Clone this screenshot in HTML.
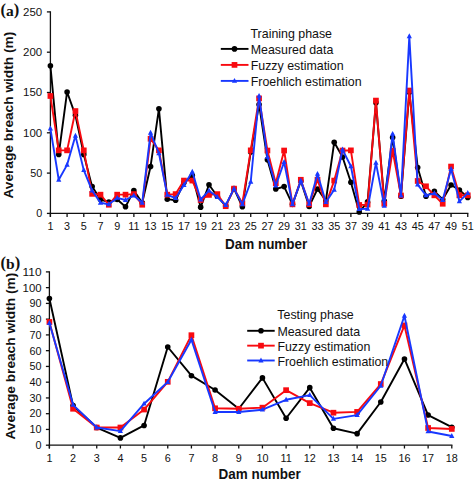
<!DOCTYPE html>
<html><head><meta charset="utf-8"><style>
html,body{margin:0;padding:0;background:#fff;}
svg{display:block;}
text{font-family:"Liberation Sans",sans-serif;fill:#111;}
.tk{font-size:10.8px;}
.lg{font-size:12.4px;}
.al{font-size:13.7px;font-weight:bold;}
.pl{font-family:"Liberation Serif",serif;font-size:15.5px;font-weight:bold;}
</style></head><body>
<svg width="475" height="482" viewBox="0 0 475 482">
<rect width="475" height="482" fill="#fff"/>
<line x1="50.4" y1="11.30" x2="50.4" y2="216.9" stroke="#111" stroke-width="1.3"/>
<line x1="49.75" y1="213.4" x2="468.40" y2="213.4" stroke="#111" stroke-width="1.3"/>
<line x1="46.9" y1="213.40" x2="50.4" y2="213.40" stroke="#111" stroke-width="1.3"/>
<text x="42.2" y="217.30" class="tk" text-anchor="end">0</text>
<line x1="46.9" y1="173.10" x2="50.4" y2="173.10" stroke="#111" stroke-width="1.3"/>
<text x="42.2" y="177.00" class="tk" text-anchor="end">50</text>
<line x1="46.9" y1="132.80" x2="50.4" y2="132.80" stroke="#111" stroke-width="1.3"/>
<text x="42.2" y="136.70" class="tk" text-anchor="end" textLength="19.1" lengthAdjust="spacingAndGlyphs">100</text>
<line x1="46.9" y1="92.50" x2="50.4" y2="92.50" stroke="#111" stroke-width="1.3"/>
<text x="42.2" y="96.40" class="tk" text-anchor="end" textLength="19.1" lengthAdjust="spacingAndGlyphs">150</text>
<line x1="46.9" y1="52.20" x2="50.4" y2="52.20" stroke="#111" stroke-width="1.3"/>
<text x="42.2" y="56.10" class="tk" text-anchor="end" textLength="19.1" lengthAdjust="spacingAndGlyphs">200</text>
<line x1="46.9" y1="11.90" x2="50.4" y2="11.90" stroke="#111" stroke-width="1.3"/>
<text x="42.2" y="15.80" class="tk" text-anchor="end" textLength="19.1" lengthAdjust="spacingAndGlyphs">250</text>
<line x1="50.40" y1="213.4" x2="50.40" y2="216.9" stroke="#111" stroke-width="1.3"/>
<text x="50.40" y="229.8" class="tk" text-anchor="middle">1</text>
<line x1="67.09" y1="213.4" x2="67.09" y2="216.9" stroke="#111" stroke-width="1.3"/>
<text x="67.09" y="229.8" class="tk" text-anchor="middle">3</text>
<line x1="83.79" y1="213.4" x2="83.79" y2="216.9" stroke="#111" stroke-width="1.3"/>
<text x="83.79" y="229.8" class="tk" text-anchor="middle">5</text>
<line x1="100.48" y1="213.4" x2="100.48" y2="216.9" stroke="#111" stroke-width="1.3"/>
<text x="100.48" y="229.8" class="tk" text-anchor="middle">7</text>
<line x1="117.18" y1="213.4" x2="117.18" y2="216.9" stroke="#111" stroke-width="1.3"/>
<text x="117.18" y="229.8" class="tk" text-anchor="middle">9</text>
<line x1="133.87" y1="213.4" x2="133.87" y2="216.9" stroke="#111" stroke-width="1.3"/>
<text x="133.87" y="229.8" class="tk" text-anchor="middle">11</text>
<line x1="150.56" y1="213.4" x2="150.56" y2="216.9" stroke="#111" stroke-width="1.3"/>
<text x="150.56" y="229.8" class="tk" text-anchor="middle">13</text>
<line x1="167.26" y1="213.4" x2="167.26" y2="216.9" stroke="#111" stroke-width="1.3"/>
<text x="167.26" y="229.8" class="tk" text-anchor="middle">15</text>
<line x1="183.95" y1="213.4" x2="183.95" y2="216.9" stroke="#111" stroke-width="1.3"/>
<text x="183.95" y="229.8" class="tk" text-anchor="middle">17</text>
<line x1="200.65" y1="213.4" x2="200.65" y2="216.9" stroke="#111" stroke-width="1.3"/>
<text x="200.65" y="229.8" class="tk" text-anchor="middle">19</text>
<line x1="217.34" y1="213.4" x2="217.34" y2="216.9" stroke="#111" stroke-width="1.3"/>
<text x="217.34" y="229.8" class="tk" text-anchor="middle">21</text>
<line x1="234.03" y1="213.4" x2="234.03" y2="216.9" stroke="#111" stroke-width="1.3"/>
<text x="234.03" y="229.8" class="tk" text-anchor="middle">23</text>
<line x1="250.73" y1="213.4" x2="250.73" y2="216.9" stroke="#111" stroke-width="1.3"/>
<text x="250.73" y="229.8" class="tk" text-anchor="middle">25</text>
<line x1="267.42" y1="213.4" x2="267.42" y2="216.9" stroke="#111" stroke-width="1.3"/>
<text x="267.42" y="229.8" class="tk" text-anchor="middle">27</text>
<line x1="284.12" y1="213.4" x2="284.12" y2="216.9" stroke="#111" stroke-width="1.3"/>
<text x="284.12" y="229.8" class="tk" text-anchor="middle">29</text>
<line x1="300.81" y1="213.4" x2="300.81" y2="216.9" stroke="#111" stroke-width="1.3"/>
<text x="300.81" y="229.8" class="tk" text-anchor="middle">31</text>
<line x1="317.50" y1="213.4" x2="317.50" y2="216.9" stroke="#111" stroke-width="1.3"/>
<text x="317.50" y="229.8" class="tk" text-anchor="middle">33</text>
<line x1="334.20" y1="213.4" x2="334.20" y2="216.9" stroke="#111" stroke-width="1.3"/>
<text x="334.20" y="229.8" class="tk" text-anchor="middle">35</text>
<line x1="350.89" y1="213.4" x2="350.89" y2="216.9" stroke="#111" stroke-width="1.3"/>
<text x="350.89" y="229.8" class="tk" text-anchor="middle">37</text>
<line x1="367.59" y1="213.4" x2="367.59" y2="216.9" stroke="#111" stroke-width="1.3"/>
<text x="367.59" y="229.8" class="tk" text-anchor="middle">39</text>
<line x1="384.28" y1="213.4" x2="384.28" y2="216.9" stroke="#111" stroke-width="1.3"/>
<text x="384.28" y="229.8" class="tk" text-anchor="middle">41</text>
<line x1="400.97" y1="213.4" x2="400.97" y2="216.9" stroke="#111" stroke-width="1.3"/>
<text x="400.97" y="229.8" class="tk" text-anchor="middle">43</text>
<line x1="417.67" y1="213.4" x2="417.67" y2="216.9" stroke="#111" stroke-width="1.3"/>
<text x="417.67" y="229.8" class="tk" text-anchor="middle">45</text>
<line x1="434.36" y1="213.4" x2="434.36" y2="216.9" stroke="#111" stroke-width="1.3"/>
<text x="434.36" y="229.8" class="tk" text-anchor="middle">47</text>
<line x1="451.06" y1="213.4" x2="451.06" y2="216.9" stroke="#111" stroke-width="1.3"/>
<text x="451.06" y="229.8" class="tk" text-anchor="middle">49</text>
<line x1="467.75" y1="213.4" x2="467.75" y2="216.9" stroke="#111" stroke-width="1.3"/>
<text x="467.75" y="229.8" class="tk" text-anchor="middle">51</text>
<polyline points="50.40,65.78 58.75,154.39 67.09,91.96 75.44,115.32 83.79,154.39 92.13,186.62 100.48,199.50 108.83,202.16 117.18,199.50 125.52,206.76 133.87,190.64 142.22,202.73 150.56,166.48 158.91,108.79 167.26,199.18 175.60,200.31 183.95,182.59 192.30,175.58 200.65,207.16 208.99,184.76 217.34,196.28 225.69,205.95 234.03,188.63 242.38,206.76 250.73,151.97 259.07,104.44 267.42,159.63 275.77,189.03 284.12,186.62 292.46,204.34 300.81,180.98 309.16,206.43 317.50,189.03 325.85,200.79 334.20,142.31 342.54,156.97 350.89,182.26 359.24,211.99 367.59,201.92 375.93,102.83 384.28,201.12 392.63,137.47 400.97,196.28 409.32,92.36 417.67,167.44 426.01,196.28 434.36,191.29 442.71,199.50 451.06,185.00 459.40,190.00 467.75,197.41" fill="none" stroke="#000" stroke-width="1.9" stroke-linejoin="round"/>
<circle cx="50.40" cy="65.78" r="2.80" fill="#000"/>
<circle cx="58.75" cy="154.39" r="2.80" fill="#000"/>
<circle cx="67.09" cy="91.96" r="2.80" fill="#000"/>
<circle cx="75.44" cy="115.32" r="2.80" fill="#000"/>
<circle cx="83.79" cy="154.39" r="2.80" fill="#000"/>
<circle cx="92.13" cy="186.62" r="2.80" fill="#000"/>
<circle cx="100.48" cy="199.50" r="2.80" fill="#000"/>
<circle cx="108.83" cy="202.16" r="2.80" fill="#000"/>
<circle cx="117.18" cy="199.50" r="2.80" fill="#000"/>
<circle cx="125.52" cy="206.76" r="2.80" fill="#000"/>
<circle cx="133.87" cy="190.64" r="2.80" fill="#000"/>
<circle cx="142.22" cy="202.73" r="2.80" fill="#000"/>
<circle cx="150.56" cy="166.48" r="2.80" fill="#000"/>
<circle cx="158.91" cy="108.79" r="2.80" fill="#000"/>
<circle cx="167.26" cy="199.18" r="2.80" fill="#000"/>
<circle cx="175.60" cy="200.31" r="2.80" fill="#000"/>
<circle cx="183.95" cy="182.59" r="2.80" fill="#000"/>
<circle cx="192.30" cy="175.58" r="2.80" fill="#000"/>
<circle cx="200.65" cy="207.16" r="2.80" fill="#000"/>
<circle cx="208.99" cy="184.76" r="2.80" fill="#000"/>
<circle cx="217.34" cy="196.28" r="2.80" fill="#000"/>
<circle cx="225.69" cy="205.95" r="2.80" fill="#000"/>
<circle cx="234.03" cy="188.63" r="2.80" fill="#000"/>
<circle cx="242.38" cy="206.76" r="2.80" fill="#000"/>
<circle cx="250.73" cy="151.97" r="2.80" fill="#000"/>
<circle cx="259.07" cy="104.44" r="2.80" fill="#000"/>
<circle cx="267.42" cy="159.63" r="2.80" fill="#000"/>
<circle cx="275.77" cy="189.03" r="2.80" fill="#000"/>
<circle cx="284.12" cy="186.62" r="2.80" fill="#000"/>
<circle cx="292.46" cy="204.34" r="2.80" fill="#000"/>
<circle cx="300.81" cy="180.98" r="2.80" fill="#000"/>
<circle cx="309.16" cy="206.43" r="2.80" fill="#000"/>
<circle cx="317.50" cy="189.03" r="2.80" fill="#000"/>
<circle cx="325.85" cy="200.79" r="2.80" fill="#000"/>
<circle cx="334.20" cy="142.31" r="2.80" fill="#000"/>
<circle cx="342.54" cy="156.97" r="2.80" fill="#000"/>
<circle cx="350.89" cy="182.26" r="2.80" fill="#000"/>
<circle cx="359.24" cy="211.99" r="2.80" fill="#000"/>
<circle cx="367.59" cy="201.92" r="2.80" fill="#000"/>
<circle cx="375.93" cy="102.83" r="2.80" fill="#000"/>
<circle cx="384.28" cy="201.12" r="2.80" fill="#000"/>
<circle cx="392.63" cy="137.47" r="2.80" fill="#000"/>
<circle cx="400.97" cy="196.28" r="2.80" fill="#000"/>
<circle cx="409.32" cy="92.36" r="2.80" fill="#000"/>
<circle cx="417.67" cy="167.44" r="2.80" fill="#000"/>
<circle cx="426.01" cy="196.28" r="2.80" fill="#000"/>
<circle cx="434.36" cy="191.29" r="2.80" fill="#000"/>
<circle cx="442.71" cy="199.50" r="2.80" fill="#000"/>
<circle cx="451.06" cy="185.00" r="2.80" fill="#000"/>
<circle cx="459.40" cy="190.00" r="2.80" fill="#000"/>
<circle cx="467.75" cy="197.41" r="2.80" fill="#000"/>
<polyline points="50.40,95.99 58.75,150.36 67.09,150.36 75.44,111.05 83.79,150.36 92.13,193.87 100.48,194.67 108.83,204.74 117.18,194.67 125.52,194.67 133.87,194.11 142.22,204.74 150.56,138.76 158.91,150.36 167.26,194.67 175.60,194.11 183.95,180.57 192.30,180.57 200.65,199.99 208.99,194.91 217.34,194.11 225.69,206.19 234.03,188.63 242.38,203.29 250.73,150.36 259.07,98.40 267.42,150.52 275.77,183.15 284.12,150.52 292.46,204.34 300.81,179.77 309.16,204.34 317.50,179.77 325.85,204.34 334.20,180.57 342.54,150.52 350.89,150.36 359.24,204.98 367.59,204.58 375.93,100.58 384.28,203.77 392.63,150.77 400.97,195.48 409.32,90.51 417.67,180.98 426.01,186.29 434.36,195.32 442.71,203.77 451.06,166.56 459.40,195.32 467.75,195.32" fill="none" stroke="#f80a10" stroke-width="1.9" stroke-linejoin="round"/>
<rect x="47.55" y="93.14" width="5.70" height="5.70" fill="#f80a10"/>
<rect x="55.90" y="147.51" width="5.70" height="5.70" fill="#f80a10"/>
<rect x="64.24" y="147.51" width="5.70" height="5.70" fill="#f80a10"/>
<rect x="72.59" y="108.20" width="5.70" height="5.70" fill="#f80a10"/>
<rect x="80.94" y="147.51" width="5.70" height="5.70" fill="#f80a10"/>
<rect x="89.28" y="191.02" width="5.70" height="5.70" fill="#f80a10"/>
<rect x="97.63" y="191.82" width="5.70" height="5.70" fill="#f80a10"/>
<rect x="105.98" y="201.89" width="5.70" height="5.70" fill="#f80a10"/>
<rect x="114.33" y="191.82" width="5.70" height="5.70" fill="#f80a10"/>
<rect x="122.67" y="191.82" width="5.70" height="5.70" fill="#f80a10"/>
<rect x="131.02" y="191.26" width="5.70" height="5.70" fill="#f80a10"/>
<rect x="139.37" y="201.89" width="5.70" height="5.70" fill="#f80a10"/>
<rect x="147.71" y="135.91" width="5.70" height="5.70" fill="#f80a10"/>
<rect x="156.06" y="147.51" width="5.70" height="5.70" fill="#f80a10"/>
<rect x="164.41" y="191.82" width="5.70" height="5.70" fill="#f80a10"/>
<rect x="172.75" y="191.26" width="5.70" height="5.70" fill="#f80a10"/>
<rect x="181.10" y="177.72" width="5.70" height="5.70" fill="#f80a10"/>
<rect x="189.45" y="177.72" width="5.70" height="5.70" fill="#f80a10"/>
<rect x="197.80" y="197.14" width="5.70" height="5.70" fill="#f80a10"/>
<rect x="206.14" y="192.06" width="5.70" height="5.70" fill="#f80a10"/>
<rect x="214.49" y="191.26" width="5.70" height="5.70" fill="#f80a10"/>
<rect x="222.84" y="203.34" width="5.70" height="5.70" fill="#f80a10"/>
<rect x="231.18" y="185.78" width="5.70" height="5.70" fill="#f80a10"/>
<rect x="239.53" y="200.44" width="5.70" height="5.70" fill="#f80a10"/>
<rect x="247.88" y="147.51" width="5.70" height="5.70" fill="#f80a10"/>
<rect x="256.22" y="95.55" width="5.70" height="5.70" fill="#f80a10"/>
<rect x="264.57" y="147.67" width="5.70" height="5.70" fill="#f80a10"/>
<rect x="272.92" y="180.30" width="5.70" height="5.70" fill="#f80a10"/>
<rect x="281.27" y="147.67" width="5.70" height="5.70" fill="#f80a10"/>
<rect x="289.61" y="201.49" width="5.70" height="5.70" fill="#f80a10"/>
<rect x="297.96" y="176.92" width="5.70" height="5.70" fill="#f80a10"/>
<rect x="306.31" y="201.49" width="5.70" height="5.70" fill="#f80a10"/>
<rect x="314.65" y="176.92" width="5.70" height="5.70" fill="#f80a10"/>
<rect x="323.00" y="201.49" width="5.70" height="5.70" fill="#f80a10"/>
<rect x="331.35" y="177.72" width="5.70" height="5.70" fill="#f80a10"/>
<rect x="339.69" y="147.67" width="5.70" height="5.70" fill="#f80a10"/>
<rect x="348.04" y="147.51" width="5.70" height="5.70" fill="#f80a10"/>
<rect x="356.39" y="202.13" width="5.70" height="5.70" fill="#f80a10"/>
<rect x="364.74" y="201.73" width="5.70" height="5.70" fill="#f80a10"/>
<rect x="373.08" y="97.73" width="5.70" height="5.70" fill="#f80a10"/>
<rect x="381.43" y="200.92" width="5.70" height="5.70" fill="#f80a10"/>
<rect x="389.78" y="147.92" width="5.70" height="5.70" fill="#f80a10"/>
<rect x="398.12" y="192.63" width="5.70" height="5.70" fill="#f80a10"/>
<rect x="406.47" y="87.66" width="5.70" height="5.70" fill="#f80a10"/>
<rect x="414.82" y="178.13" width="5.70" height="5.70" fill="#f80a10"/>
<rect x="423.16" y="183.44" width="5.70" height="5.70" fill="#f80a10"/>
<rect x="431.51" y="192.47" width="5.70" height="5.70" fill="#f80a10"/>
<rect x="439.86" y="200.92" width="5.70" height="5.70" fill="#f80a10"/>
<rect x="448.21" y="163.71" width="5.70" height="5.70" fill="#f80a10"/>
<rect x="456.55" y="192.47" width="5.70" height="5.70" fill="#f80a10"/>
<rect x="464.90" y="192.47" width="5.70" height="5.70" fill="#f80a10"/>
<polyline points="50.40,128.61 58.75,179.77 67.09,164.86 75.44,135.86 83.79,170.18 92.13,190.64 100.48,202.73 108.83,204.34 117.18,197.89 125.52,199.99 133.87,195.48 142.22,202.73 150.56,132.80 158.91,153.26 167.26,194.91 175.60,198.22 183.95,185.00 192.30,171.79 200.65,199.50 208.99,190.64 217.34,197.09 225.69,205.14 234.03,188.63 242.38,204.34 250.73,181.78 259.07,95.90 267.42,156.97 275.77,185.65 284.12,162.04 292.46,204.34 300.81,180.57 309.16,203.94 317.50,173.89 325.85,202.16 334.20,189.84 342.54,149.56 350.89,166.23 359.24,209.17 367.59,208.77 375.93,162.85 384.28,205.95 392.63,133.93 400.97,195.48 409.32,36.37 417.67,184.60 426.01,195.32 434.36,193.30 442.71,200.07 451.06,169.05 459.40,201.36 467.75,193.06" fill="none" stroke="#1838ff" stroke-width="1.9" stroke-linejoin="round"/>
<path d="M50.40,125.61 L53.00,130.51 L47.80,130.51Z" fill="#1838ff"/>
<path d="M58.75,176.77 L61.35,181.67 L56.15,181.67Z" fill="#1838ff"/>
<path d="M67.09,161.86 L69.69,166.76 L64.49,166.76Z" fill="#1838ff"/>
<path d="M75.44,132.86 L78.04,137.76 L72.84,137.76Z" fill="#1838ff"/>
<path d="M83.79,167.18 L86.39,172.08 L81.19,172.08Z" fill="#1838ff"/>
<path d="M92.13,187.64 L94.73,192.54 L89.53,192.54Z" fill="#1838ff"/>
<path d="M100.48,199.73 L103.08,204.63 L97.88,204.63Z" fill="#1838ff"/>
<path d="M108.83,201.34 L111.43,206.24 L106.23,206.24Z" fill="#1838ff"/>
<path d="M117.18,194.89 L119.78,199.79 L114.58,199.79Z" fill="#1838ff"/>
<path d="M125.52,196.99 L128.12,201.89 L122.92,201.89Z" fill="#1838ff"/>
<path d="M133.87,192.48 L136.47,197.38 L131.27,197.38Z" fill="#1838ff"/>
<path d="M142.22,199.73 L144.82,204.63 L139.62,204.63Z" fill="#1838ff"/>
<path d="M150.56,129.80 L153.16,134.70 L147.96,134.70Z" fill="#1838ff"/>
<path d="M158.91,150.26 L161.51,155.16 L156.31,155.16Z" fill="#1838ff"/>
<path d="M167.26,191.91 L169.86,196.81 L164.66,196.81Z" fill="#1838ff"/>
<path d="M175.60,195.22 L178.20,200.12 L173.00,200.12Z" fill="#1838ff"/>
<path d="M183.95,182.00 L186.55,186.90 L181.35,186.90Z" fill="#1838ff"/>
<path d="M192.30,168.79 L194.90,173.69 L189.70,173.69Z" fill="#1838ff"/>
<path d="M200.65,196.50 L203.25,201.40 L198.05,201.40Z" fill="#1838ff"/>
<path d="M208.99,187.64 L211.59,192.54 L206.39,192.54Z" fill="#1838ff"/>
<path d="M217.34,194.09 L219.94,198.99 L214.74,198.99Z" fill="#1838ff"/>
<path d="M225.69,202.14 L228.29,207.04 L223.09,207.04Z" fill="#1838ff"/>
<path d="M234.03,185.63 L236.63,190.53 L231.43,190.53Z" fill="#1838ff"/>
<path d="M242.38,201.34 L244.98,206.24 L239.78,206.24Z" fill="#1838ff"/>
<path d="M250.73,178.78 L253.33,183.68 L248.13,183.68Z" fill="#1838ff"/>
<path d="M259.07,92.90 L261.68,97.80 L256.47,97.80Z" fill="#1838ff"/>
<path d="M267.42,153.97 L270.02,158.87 L264.82,158.87Z" fill="#1838ff"/>
<path d="M275.77,182.65 L278.37,187.55 L273.17,187.55Z" fill="#1838ff"/>
<path d="M284.12,159.04 L286.72,163.94 L281.52,163.94Z" fill="#1838ff"/>
<path d="M292.46,201.34 L295.06,206.24 L289.86,206.24Z" fill="#1838ff"/>
<path d="M300.81,177.57 L303.41,182.47 L298.21,182.47Z" fill="#1838ff"/>
<path d="M309.16,200.94 L311.76,205.84 L306.56,205.84Z" fill="#1838ff"/>
<path d="M317.50,170.89 L320.10,175.79 L314.90,175.79Z" fill="#1838ff"/>
<path d="M325.85,199.16 L328.45,204.06 L323.25,204.06Z" fill="#1838ff"/>
<path d="M334.20,186.84 L336.80,191.74 L331.60,191.74Z" fill="#1838ff"/>
<path d="M342.54,146.56 L345.14,151.46 L339.94,151.46Z" fill="#1838ff"/>
<path d="M350.89,163.23 L353.49,168.13 L348.29,168.13Z" fill="#1838ff"/>
<path d="M359.24,206.17 L361.84,211.07 L356.64,211.07Z" fill="#1838ff"/>
<path d="M367.59,205.77 L370.19,210.67 L364.99,210.67Z" fill="#1838ff"/>
<path d="M375.93,159.85 L378.53,164.75 L373.33,164.75Z" fill="#1838ff"/>
<path d="M384.28,202.95 L386.88,207.85 L381.68,207.85Z" fill="#1838ff"/>
<path d="M392.63,130.93 L395.23,135.83 L390.03,135.83Z" fill="#1838ff"/>
<path d="M400.97,192.48 L403.57,197.38 L398.37,197.38Z" fill="#1838ff"/>
<path d="M409.32,33.37 L411.92,38.27 L406.72,38.27Z" fill="#1838ff"/>
<path d="M417.67,181.60 L420.27,186.50 L415.07,186.50Z" fill="#1838ff"/>
<path d="M426.01,192.32 L428.61,197.22 L423.41,197.22Z" fill="#1838ff"/>
<path d="M434.36,190.30 L436.96,195.20 L431.76,195.20Z" fill="#1838ff"/>
<path d="M442.71,197.07 L445.31,201.97 L440.11,201.97Z" fill="#1838ff"/>
<path d="M451.06,166.05 L453.66,170.95 L448.46,170.95Z" fill="#1838ff"/>
<path d="M459.40,198.36 L462.00,203.26 L456.80,203.26Z" fill="#1838ff"/>
<path d="M467.75,190.06 L470.35,194.96 L465.15,194.96Z" fill="#1838ff"/>
<text x="250.5" y="38.4" class="lg">Training phase</text>
<line x1="220.8" y1="48.9" x2="248.5" y2="48.9" stroke="#000" stroke-width="1.9"/>
<circle cx="234.50" cy="48.90" r="2.80" fill="#000"/>
<text x="250.7" y="53.90" class="lg">Measured data</text>
<line x1="220.8" y1="64.9" x2="248.5" y2="64.9" stroke="#f80a10" stroke-width="1.9"/>
<rect x="231.65" y="62.05" width="5.70" height="5.70" fill="#f80a10"/>
<text x="250.7" y="69.90" class="lg">Fuzzy estimation</text>
<line x1="220.8" y1="80.9" x2="248.5" y2="80.9" stroke="#1838ff" stroke-width="1.9"/>
<path d="M234.50,77.90 L237.10,82.80 L231.90,82.80Z" fill="#1838ff"/>
<text x="250.7" y="85.90" class="lg">Froehlich estimation</text>
<text x="225.0" y="248.7" class="al" style="font-size:14.5px" textLength="82.3" lengthAdjust="spacingAndGlyphs">Dam number</text>
<text transform="translate(13.3,115.2) rotate(-90)" class="al" text-anchor="middle">Average breach width (m)</text>
<text x="0.4" y="15.0" class="pl"><tspan style="font-size:16.5px" dy="-0.4">(</tspan><tspan dy="0.9">a</tspan><tspan style="font-size:16.5px" dy="-0.9">)</tspan></text>
<line x1="49.4" y1="271.29" x2="49.4" y2="448.5" stroke="#111" stroke-width="1.3"/>
<line x1="48.75" y1="445.2" x2="452.44" y2="445.2" stroke="#111" stroke-width="1.3"/>
<line x1="45.9" y1="445.20" x2="49.4" y2="445.20" stroke="#111" stroke-width="1.3"/>
<text x="41.6" y="448.58" class="tk" text-anchor="end">0</text>
<line x1="45.9" y1="429.44" x2="49.4" y2="429.44" stroke="#111" stroke-width="1.3"/>
<text x="41.6" y="432.90" class="tk" text-anchor="end">10</text>
<line x1="45.9" y1="413.69" x2="49.4" y2="413.69" stroke="#111" stroke-width="1.3"/>
<text x="41.6" y="417.22" class="tk" text-anchor="end">20</text>
<line x1="45.9" y1="397.94" x2="49.4" y2="397.94" stroke="#111" stroke-width="1.3"/>
<text x="41.6" y="401.54" class="tk" text-anchor="end">30</text>
<line x1="45.9" y1="382.18" x2="49.4" y2="382.18" stroke="#111" stroke-width="1.3"/>
<text x="41.6" y="385.86" class="tk" text-anchor="end">40</text>
<line x1="45.9" y1="366.43" x2="49.4" y2="366.43" stroke="#111" stroke-width="1.3"/>
<text x="41.6" y="370.18" class="tk" text-anchor="end">50</text>
<line x1="45.9" y1="350.67" x2="49.4" y2="350.67" stroke="#111" stroke-width="1.3"/>
<text x="41.6" y="354.50" class="tk" text-anchor="end">60</text>
<line x1="45.9" y1="334.91" x2="49.4" y2="334.91" stroke="#111" stroke-width="1.3"/>
<text x="41.6" y="338.82" class="tk" text-anchor="end">70</text>
<line x1="45.9" y1="319.16" x2="49.4" y2="319.16" stroke="#111" stroke-width="1.3"/>
<text x="41.6" y="323.14" class="tk" text-anchor="end">80</text>
<line x1="45.9" y1="303.40" x2="49.4" y2="303.40" stroke="#111" stroke-width="1.3"/>
<text x="41.6" y="307.46" class="tk" text-anchor="end">90</text>
<line x1="45.9" y1="287.65" x2="49.4" y2="287.65" stroke="#111" stroke-width="1.3"/>
<text x="41.6" y="291.78" class="tk" text-anchor="end" textLength="19.0" lengthAdjust="spacingAndGlyphs">100</text>
<line x1="45.9" y1="271.89" x2="49.4" y2="271.89" stroke="#111" stroke-width="1.3"/>
<text x="41.6" y="276.10" class="tk" text-anchor="end" textLength="19.0" lengthAdjust="spacingAndGlyphs">110</text>
<line x1="49.40" y1="445.2" x2="49.40" y2="448.5" stroke="#111" stroke-width="1.3"/>
<text x="49.40" y="461.9" class="tk" text-anchor="middle">1</text>
<line x1="73.07" y1="445.2" x2="73.07" y2="448.5" stroke="#111" stroke-width="1.3"/>
<text x="73.07" y="461.9" class="tk" text-anchor="middle">2</text>
<line x1="96.74" y1="445.2" x2="96.74" y2="448.5" stroke="#111" stroke-width="1.3"/>
<text x="96.74" y="461.9" class="tk" text-anchor="middle">3</text>
<line x1="120.41" y1="445.2" x2="120.41" y2="448.5" stroke="#111" stroke-width="1.3"/>
<text x="120.41" y="461.9" class="tk" text-anchor="middle">4</text>
<line x1="144.08" y1="445.2" x2="144.08" y2="448.5" stroke="#111" stroke-width="1.3"/>
<text x="144.08" y="461.9" class="tk" text-anchor="middle">5</text>
<line x1="167.75" y1="445.2" x2="167.75" y2="448.5" stroke="#111" stroke-width="1.3"/>
<text x="167.75" y="461.9" class="tk" text-anchor="middle">6</text>
<line x1="191.42" y1="445.2" x2="191.42" y2="448.5" stroke="#111" stroke-width="1.3"/>
<text x="191.42" y="461.9" class="tk" text-anchor="middle">7</text>
<line x1="215.09" y1="445.2" x2="215.09" y2="448.5" stroke="#111" stroke-width="1.3"/>
<text x="215.09" y="461.9" class="tk" text-anchor="middle">8</text>
<line x1="238.76" y1="445.2" x2="238.76" y2="448.5" stroke="#111" stroke-width="1.3"/>
<text x="238.76" y="461.9" class="tk" text-anchor="middle">9</text>
<line x1="262.43" y1="445.2" x2="262.43" y2="448.5" stroke="#111" stroke-width="1.3"/>
<text x="262.43" y="461.9" class="tk" text-anchor="middle">10</text>
<line x1="286.10" y1="445.2" x2="286.10" y2="448.5" stroke="#111" stroke-width="1.3"/>
<text x="286.10" y="461.9" class="tk" text-anchor="middle">11</text>
<line x1="309.77" y1="445.2" x2="309.77" y2="448.5" stroke="#111" stroke-width="1.3"/>
<text x="309.77" y="461.9" class="tk" text-anchor="middle">12</text>
<line x1="333.44" y1="445.2" x2="333.44" y2="448.5" stroke="#111" stroke-width="1.3"/>
<text x="333.44" y="461.9" class="tk" text-anchor="middle">13</text>
<line x1="357.11" y1="445.2" x2="357.11" y2="448.5" stroke="#111" stroke-width="1.3"/>
<text x="357.11" y="461.9" class="tk" text-anchor="middle">14</text>
<line x1="380.78" y1="445.2" x2="380.78" y2="448.5" stroke="#111" stroke-width="1.3"/>
<text x="380.78" y="461.9" class="tk" text-anchor="middle">15</text>
<line x1="404.45" y1="445.2" x2="404.45" y2="448.5" stroke="#111" stroke-width="1.3"/>
<text x="404.45" y="461.9" class="tk" text-anchor="middle">16</text>
<line x1="428.12" y1="445.2" x2="428.12" y2="448.5" stroke="#111" stroke-width="1.3"/>
<text x="428.12" y="461.9" class="tk" text-anchor="middle">17</text>
<line x1="451.79" y1="445.2" x2="451.79" y2="448.5" stroke="#111" stroke-width="1.3"/>
<text x="451.79" y="461.9" class="tk" text-anchor="middle">18</text>
<polyline points="49.40,298.48 73.07,405.61 96.74,427.51 120.41,437.91 144.08,425.46 167.75,347.00 191.42,375.68 215.09,390.02 238.76,408.76 262.43,377.88 286.10,418.22 309.77,387.65 333.44,428.30 357.11,433.66 380.78,401.99 404.45,358.98 428.12,415.07 451.79,427.20" fill="none" stroke="#000" stroke-width="1.9" stroke-linejoin="round"/>
<circle cx="49.40" cy="298.48" r="2.80" fill="#000"/>
<circle cx="73.07" cy="405.61" r="2.80" fill="#000"/>
<circle cx="96.74" cy="427.51" r="2.80" fill="#000"/>
<circle cx="120.41" cy="437.91" r="2.80" fill="#000"/>
<circle cx="144.08" cy="425.46" r="2.80" fill="#000"/>
<circle cx="167.75" cy="347.00" r="2.80" fill="#000"/>
<circle cx="191.42" cy="375.68" r="2.80" fill="#000"/>
<circle cx="215.09" cy="390.02" r="2.80" fill="#000"/>
<circle cx="238.76" cy="408.76" r="2.80" fill="#000"/>
<circle cx="262.43" cy="377.88" r="2.80" fill="#000"/>
<circle cx="286.10" cy="418.22" r="2.80" fill="#000"/>
<circle cx="309.77" cy="387.65" r="2.80" fill="#000"/>
<circle cx="333.44" cy="428.30" r="2.80" fill="#000"/>
<circle cx="357.11" cy="433.66" r="2.80" fill="#000"/>
<circle cx="380.78" cy="401.99" r="2.80" fill="#000"/>
<circle cx="404.45" cy="358.98" r="2.80" fill="#000"/>
<circle cx="428.12" cy="415.07" r="2.80" fill="#000"/>
<circle cx="451.79" cy="427.20" r="2.80" fill="#000"/>
<polyline points="49.40,321.95 73.07,408.76 96.74,427.51 120.41,427.51 144.08,409.55 167.75,381.82 191.42,335.19 215.09,408.29 238.76,408.76 262.43,407.66 286.10,390.17 309.77,403.09 333.44,412.70 357.11,411.91 380.78,384.03 404.45,325.42 428.12,427.98 451.79,428.93" fill="none" stroke="#f80a10" stroke-width="1.9" stroke-linejoin="round"/>
<rect x="46.55" y="319.10" width="5.70" height="5.70" fill="#f80a10"/>
<rect x="70.22" y="405.91" width="5.70" height="5.70" fill="#f80a10"/>
<rect x="93.89" y="424.66" width="5.70" height="5.70" fill="#f80a10"/>
<rect x="117.56" y="424.66" width="5.70" height="5.70" fill="#f80a10"/>
<rect x="141.23" y="406.70" width="5.70" height="5.70" fill="#f80a10"/>
<rect x="164.90" y="378.97" width="5.70" height="5.70" fill="#f80a10"/>
<rect x="188.57" y="332.34" width="5.70" height="5.70" fill="#f80a10"/>
<rect x="212.24" y="405.44" width="5.70" height="5.70" fill="#f80a10"/>
<rect x="235.91" y="405.91" width="5.70" height="5.70" fill="#f80a10"/>
<rect x="259.58" y="404.81" width="5.70" height="5.70" fill="#f80a10"/>
<rect x="283.25" y="387.32" width="5.70" height="5.70" fill="#f80a10"/>
<rect x="306.92" y="400.24" width="5.70" height="5.70" fill="#f80a10"/>
<rect x="330.59" y="409.85" width="5.70" height="5.70" fill="#f80a10"/>
<rect x="354.26" y="409.06" width="5.70" height="5.70" fill="#f80a10"/>
<rect x="377.93" y="381.18" width="5.70" height="5.70" fill="#f80a10"/>
<rect x="401.60" y="322.57" width="5.70" height="5.70" fill="#f80a10"/>
<rect x="425.27" y="425.13" width="5.70" height="5.70" fill="#f80a10"/>
<rect x="448.94" y="426.08" width="5.70" height="5.70" fill="#f80a10"/>
<polyline points="49.40,323.06 73.07,404.82 96.74,427.51 120.41,431.14 144.08,403.72 167.75,381.98 191.42,339.76 215.09,412.07 238.76,412.07 262.43,409.71 286.10,399.78 309.77,395.06 333.44,418.85 357.11,415.07 380.78,385.76 404.45,315.81 428.12,431.45 451.79,436.02" fill="none" stroke="#1838ff" stroke-width="1.9" stroke-linejoin="round"/>
<path d="M49.40,320.06 L52.00,324.96 L46.80,324.96Z" fill="#1838ff"/>
<path d="M73.07,401.82 L75.67,406.72 L70.47,406.72Z" fill="#1838ff"/>
<path d="M96.74,424.51 L99.34,429.41 L94.14,429.41Z" fill="#1838ff"/>
<path d="M120.41,428.14 L123.01,433.04 L117.81,433.04Z" fill="#1838ff"/>
<path d="M144.08,400.72 L146.68,405.62 L141.48,405.62Z" fill="#1838ff"/>
<path d="M167.75,378.98 L170.35,383.88 L165.15,383.88Z" fill="#1838ff"/>
<path d="M191.42,336.76 L194.02,341.66 L188.82,341.66Z" fill="#1838ff"/>
<path d="M215.09,409.07 L217.69,413.97 L212.49,413.97Z" fill="#1838ff"/>
<path d="M238.76,409.07 L241.36,413.97 L236.16,413.97Z" fill="#1838ff"/>
<path d="M262.43,406.71 L265.03,411.61 L259.83,411.61Z" fill="#1838ff"/>
<path d="M286.10,396.78 L288.70,401.68 L283.50,401.68Z" fill="#1838ff"/>
<path d="M309.77,392.06 L312.37,396.96 L307.17,396.96Z" fill="#1838ff"/>
<path d="M333.44,415.85 L336.04,420.75 L330.84,420.75Z" fill="#1838ff"/>
<path d="M357.11,412.07 L359.71,416.97 L354.51,416.97Z" fill="#1838ff"/>
<path d="M380.78,382.76 L383.38,387.66 L378.18,387.66Z" fill="#1838ff"/>
<path d="M404.45,312.81 L407.05,317.71 L401.85,317.71Z" fill="#1838ff"/>
<path d="M428.12,428.45 L430.72,433.35 L425.52,433.35Z" fill="#1838ff"/>
<path d="M451.79,433.02 L454.39,437.92 L449.19,437.92Z" fill="#1838ff"/>
<text x="277.3" y="319.2" class="lg">Testing phase</text>
<line x1="247.2" y1="330.80" x2="274.7" y2="330.80" stroke="#000" stroke-width="1.9"/>
<circle cx="261.00" cy="330.80" r="2.80" fill="#000"/>
<text x="277.4" y="335.80" class="lg">Measured data</text>
<line x1="247.2" y1="345.65" x2="274.7" y2="345.65" stroke="#f80a10" stroke-width="1.9"/>
<rect x="258.15" y="342.80" width="5.70" height="5.70" fill="#f80a10"/>
<text x="277.4" y="350.65" class="lg">Fuzzy estimation</text>
<line x1="247.2" y1="360.50" x2="274.7" y2="360.50" stroke="#1838ff" stroke-width="1.9"/>
<path d="M261.00,357.50 L263.60,362.40 L258.40,362.40Z" fill="#1838ff"/>
<text x="277.4" y="365.50" class="lg">Froehlich estimation</text>
<text x="218.5" y="478.8" class="al" style="font-size:14.5px" textLength="82.3" lengthAdjust="spacingAndGlyphs">Dam number</text>
<text transform="translate(14.8,356.2) rotate(-90)" class="al" text-anchor="middle">Average breach width (m)</text>
<text x="0.5" y="268.3" class="pl"><tspan style="font-size:16.5px" dy="0.1">(</tspan><tspan dy="0.3">b</tspan><tspan style="font-size:16.5px" dy="-0.3">)</tspan></text>
</svg>
</body></html>
